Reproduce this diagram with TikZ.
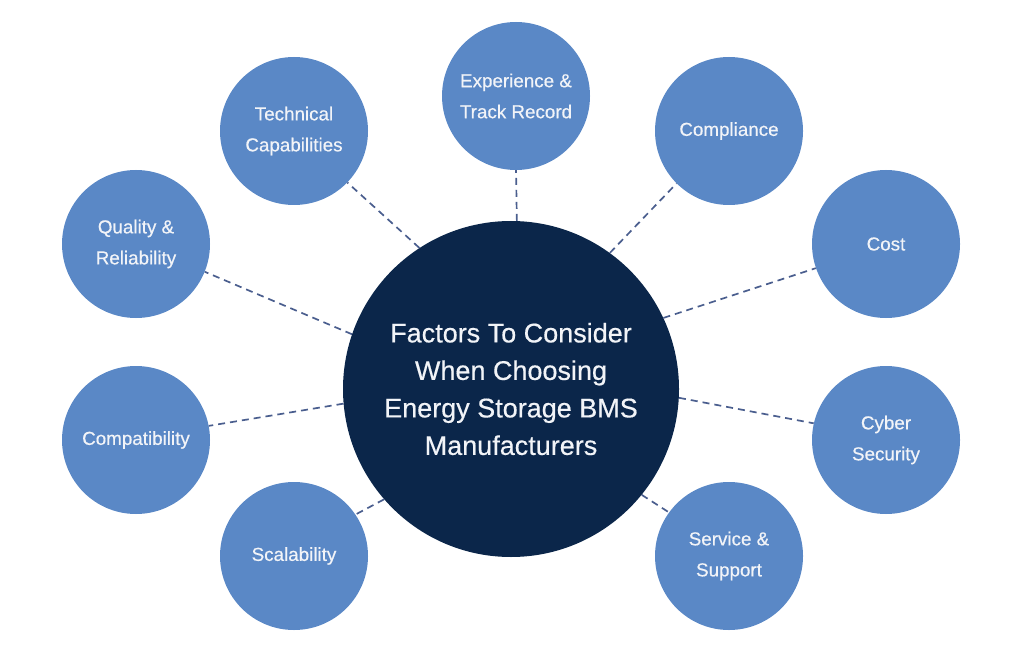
\documentclass[tikz,border=0pt]{standalone}
\usepackage{fontspec}
\setmainfont{Liberation Sans}
\newfontfamily\medfont{Liberation Sans}[FakeBold=0.45]
\definecolor{outerblue}{HTML}{5A88C6}
\definecolor{darknavy}{HTML}{0B264A}
\definecolor{dashcol}{HTML}{4A5E8E}
\definecolor{txt}{HTML}{F2F4F8}
\begin{document}
\begin{tikzpicture}[x=1pt,y=-1pt,
  factor/.style={circle,fill=outerblue,minimum size=148pt,inner sep=0pt,align=center,
    text=txt,font=\medfont\fontsize{18.8}{31}\selectfont},
  hub/.style={circle,fill=darknavy,minimum size=336pt,inner sep=0pt,align=center,
    text=txt,font=\medfont\fontsize{27}{37.5}\selectfont},
  link/.style={draw=dashcol,line width=1.7pt,dash pattern=on 7pt off 5pt}]
\useasboundingbox (0,0) rectangle (1024,652);
\node[hub] (c) at (511,389) {Factors To Consider\\When Choosing\\Energy Storage BMS\\Manufacturers};
\node[factor] (exp) at (516,96) {Experience \&\\Track Record};
\node[factor] (tech) at (294,131) {Technical\\Capabilities};
\node[factor] (comp) at (729,131) {Compliance};
\node[factor] (qual) at (136,244) {Quality \&\\Reliability};
\node[factor] (cost) at (886,244) {Cost};
\node[factor] (compat) at (136,440) {Compatibility};
\node[factor] (cyber) at (886,440) {Cyber\\Security};
\node[factor] (scal) at (294,556) {Scalability};
\node[factor] (serv) at (729,556) {Service \&\\Support};
\draw[link] (c.123.2) -- (tech.-44.5);
\draw[link] (c.88.3) -- (exp.-90);
\draw[link] (c.54.1) -- (comp.-135);
\draw[link] (c.25.6) -- (cost.199.2);
\draw[link] (c.161.2) -- (qual.-22.8);
\draw[link] (c.185.5) -- (compat.11.5);
\draw[link] (c.-3) -- (cyber.167.1);
\draw[link] (c.221.3) -- (scal.34.3);
\draw[link] (c.-39.2) -- (serv.144.8);
\end{tikzpicture}
\end{document}
